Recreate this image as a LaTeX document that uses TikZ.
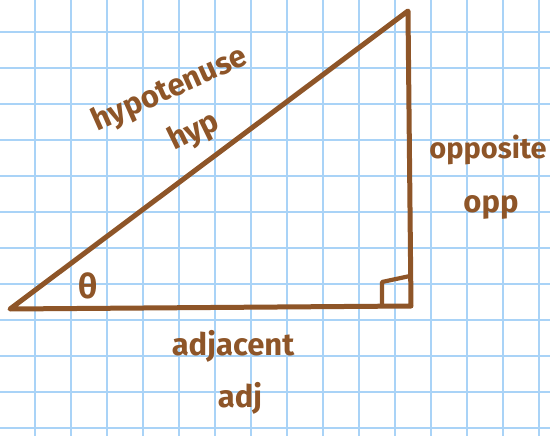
\documentclass[tikz,border=0pt]{standalone}
\usepackage{fontspec}
\setmainfont{Fira Sans}
\definecolor{gridblue}{HTML}{A9D3F7}
\definecolor{brownink}{HTML}{8E5528}
\tikzset{
  gridline/.style={gridblue, line width=1.6pt},
  side/.style={brownink, line width=5pt, line join=round, line cap=round},
  lbl/.style={brownink, font=\bfseries\fontsize{31}{34}\selectfont, inner sep=0pt}
}
\begin{document}
\begin{tikzpicture}[x=1pt,y=-1pt]
\useasboundingbox (0,0) rectangle (550,436);
\fill[white] (0,0) rectangle (550,436);
\foreach \i in {0,...,15} { \draw[gridline] ({-1+36*\i},0) -- ({-1+36*\i},436); }
\foreach \j in {0,...,11} { \draw[gridline] (0,{32+36*\j}) -- (550,{32+36*\j}); }
\coordinate (A) at (10,309);
\coordinate (B) at (408,11);
\coordinate (C) at (411,306);
\draw[side] (A) -- (B) -- (C) -- cycle;
\coordinate (s1) at (382,306);
\coordinate (s2) at (382,282);
\coordinate (s3) at (410,276);
\draw[side, line width=4.2pt] (s1) -- (s2) -- (s3);
\node[lbl, font=\bfseries\fontsize{34}{36}\selectfont] (theta) at (88,286) {θ};
\node[lbl, rotate=24] (hypo) at (170,90) {hypotenuse};
\node[lbl, rotate=26] (hyp) at (194,132) {hyp};
\node[lbl, font=\bfseries\fontsize{29}{32}\selectfont] (opposite) at (488,150) {opposite};
\node[lbl] (opp) at (491,207) {opp};
\node[lbl] (adjacent) at (233,346) {adjacent};
\node[lbl] (adj) at (240,398) {adj};
\end{tikzpicture}
\end{document}
